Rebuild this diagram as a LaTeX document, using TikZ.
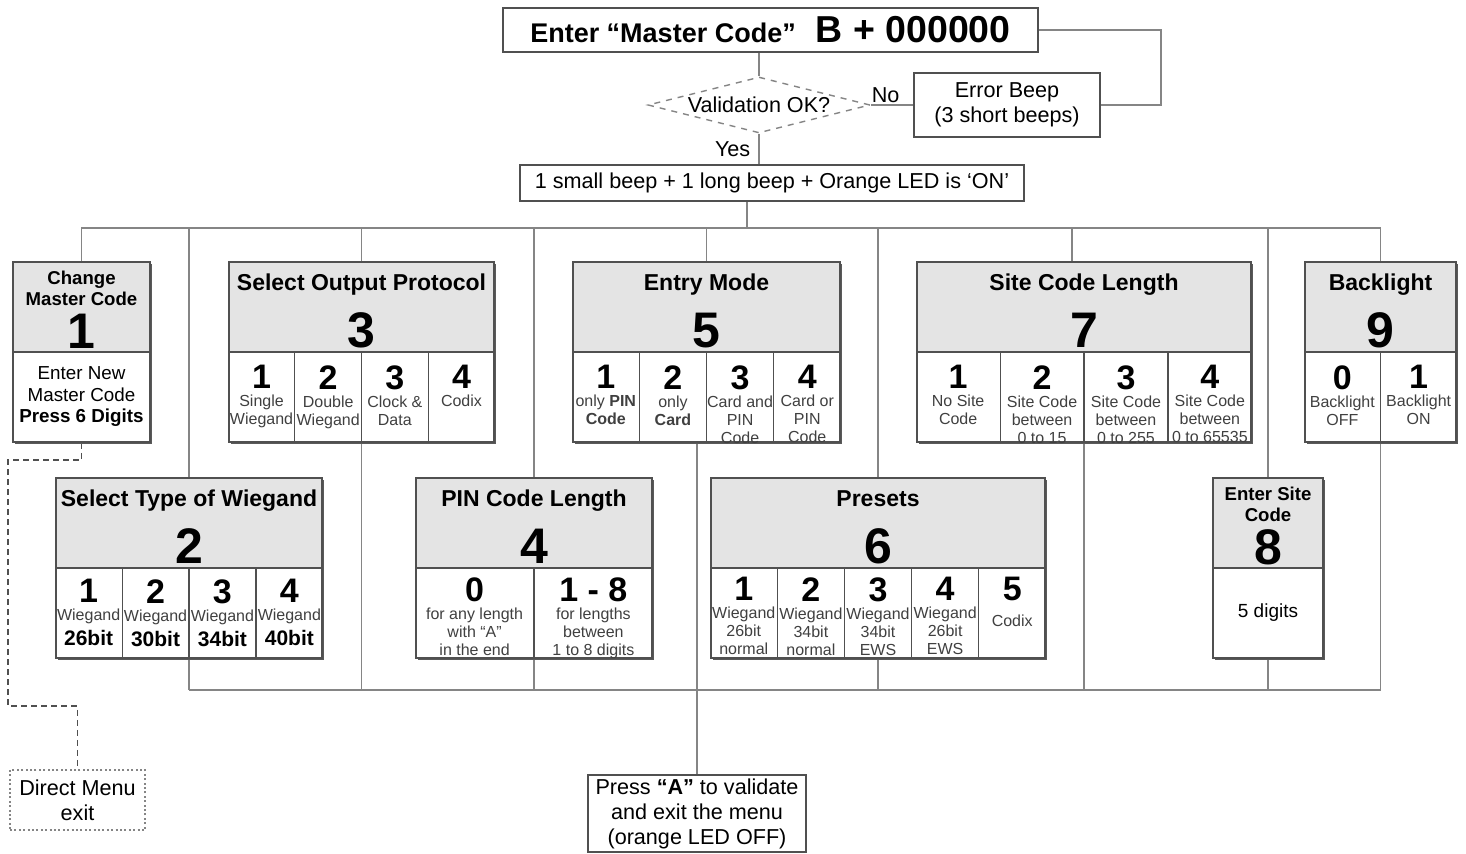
\documentclass[tikz,border=0pt]{standalone}
\usepackage{fontspec}
\setmainfont{Liberation Sans}
\usetikzlibrary{shapes.geometric,positioning,calc,backgrounds,shadows}
\definecolor{cbord}{HTML}{505050}
\definecolor{cwire}{HTML}{858585}
\definecolor{chead}{HTML}{E4E4E4}
\definecolor{cshad}{HTML}{5A5A5A}

\begin{document}
\begin{tikzpicture}[x=0.5pt, y=-0.5pt,
  font=\fontsize{10.8}{12.5}\selectfont,
  box/.style={draw=cbord, line width=0.8pt, fill=white, align=flush center, inner sep=1pt},
  menu/.style={box, drop shadow={shadow xshift=1pt, shadow yshift=-1pt, fill=cshad, opacity=1}},
  hd/.style={menu, fill=chead, minimum height=45pt},
  panel/.style={menu, minimum height=45pt},
  opttx/.style={anchor=north, align=flush center, inner sep=0pt},
  diam/.style={diamond, draw=cwire, dashed, line width=0.7pt, aspect=4, inner sep=0pt,
               minimum width=111pt, minimum height=28pt},
  wire/.style={draw=cwire, line width=0.75pt},
  divln/.style={draw=cbord, line width=0.6pt},
  dashln/.style={draw=cbord, line width=0.7pt, dash pattern=on 3pt off 2pt},
  lbl/.style={inner sep=1pt},
]
\newcommand{\ttl}[2]{\fontsize{11.5}{13}\selectfont\bfseries\rule{0pt}{12.5pt}#1\par\fontsize{25}{28.5}\selectfont #2\par}
\newcommand{\ttls}[2]{\fontsize{9.3}{10.3}\selectfont\bfseries\rule{0pt}{9.8pt}#1\par\fontsize{25}{21.5}\selectfont #2\par}
\newcommand{\choice}[2]{\fontsize{17}{18}\selectfont\bfseries\leavevmode\color{black}#1\par
  \fontsize{8}{9}\selectfont\mdseries\color{black!75}#2\par}
\newcommand{\bb}[1]{\par\fontsize{10.5}{12.5}\selectfont\bfseries\color{black}#1}

\useasboundingbox (0,0) rectangle (1466,854);

% ------------------------------------------------------------------ master code
\node[box, minimum width=267.5pt, minimum height=22pt] (mc) at (770.5,30)
  {{\fontsize{13.5}{15}\selectfont\bfseries Enter “Master Code”}\hspace{10pt}{\fontsize{18.75}{20}\selectfont\bfseries B + 000000}};
\node[diam] (valid) at (759,105) {Validation OK?};
\node[box, minimum width=93pt, minimum height=32pt] (err) at (1007,105) {Error Beep\\(3 short beeps)};
\node[box, minimum width=252pt, minimum height=18pt] (led) at (772,183) {1 small beep + 1 long beep + Orange LED is ‘ON’};

% ------------------------------------------------------------------ top row of menus
\node[hd, minimum width=68.5pt, text width=66pt] (chg) at (81.5,307) {\ttls{Change\\Master Code}{1}};
\node[panel, minimum width=68.5pt, text width=66pt] (chgb) at (81.5,397)
  {\fontsize{9.4}{10.75}\selectfont Enter New\\Master Code\\\textbf{Press 6 Digits}\par};

\node[hd, minimum width=132.5pt, text width=130pt] (proto) at (361.5,307) {\ttl{Select Output Protocol}{3}};
\node[panel, minimum width=132.5pt] (protob) at (361.5,397) {};
\foreach \i in {1,2,3}
  \draw[divln] ($(protob.north west)!\i/4!(protob.north east)$) -- ($(protob.south west)!\i/4!(protob.south east)$);
\foreach \dg/\tx [count=\i] in {1/{Single\\Wiegand}, 2/{Double\\Wiegand}, 3/{Clock \&\\Data}, 4/{Codix}}
  \node[opttx, text width=35pt] (protot\i) at ($(protob.north west)!\i/4-0.125!(protob.north east)+(0,14)$) {\choice{\dg}{\tx}};

\node[hd, minimum width=133.5pt, text width=131pt] (entry) at (706.5,307) {\ttl{Entry Mode}{5}};
\node[panel, minimum width=133.5pt] (entryb) at (706.5,397) {};
\foreach \i in {1,2,3}
  \draw[divln] ($(entryb.north west)!\i/4!(entryb.north east)$) -- ($(entryb.south west)!\i/4!(entryb.south east)$);
\foreach \dg/\tx [count=\i] in {1/{only \textbf{PIN}\\\textbf{Code}}, 2/{only\\\textbf{Card}},
    3/{Card and\\PIN\\Code}, 4/{Card or\\PIN\\Code}}
  \node[opttx, text width=35pt] (entryt\i) at ($(entryb.north west)!\i/4-0.125!(entryb.north east)+(0,14)$) {\choice{\dg}{\tx}};

\node[hd, minimum width=167pt, text width=164pt] (site) at (1084,307) {\ttl{Site Code Length}{7}};
\node[panel, minimum width=167pt] (siteb) at (1084,397) {};
\foreach \i in {1,2,3}
  \draw[divln] ($(siteb.north west)!\i/4!(siteb.north east)$) -- ($(siteb.south west)!\i/4!(siteb.south east)$);
\foreach \dg/\tx [count=\i] in {1/{No Site\\Code}, 2/{Site Code\\between\\0 to 15},
    3/{Site Code\\between\\0 to 255}, 4/{Site Code\\between\\0 to 65535}}
  \node[opttx, text width=43pt] (sitet\i) at ($(siteb.north west)!\i/4-0.125!(siteb.north east)+(0,14)$) {\choice{\dg}{\tx}};

\node[hd, minimum width=75.5pt, text width=73pt] (blight) at (1380.5,307) {\ttl{Backlight}{9}};
\node[panel, minimum width=75.5pt] (blightb) at (1380.5,397) {};
\draw[divln] (blightb.north) -- (blightb.south);
\foreach \dg/\tx [count=\i] in {0/{Backlight\\OFF}, 1/{Backlight\\ON}}
  \node[opttx, text width=39pt] (blightt\i) at ($(blightb.north west)!\i/2-0.25!(blightb.north east)+(0,14)$) {\choice{\dg}{\tx}};

% ------------------------------------------------------------------ bottom row of menus
\node[hd, minimum width=133pt, text width=131pt] (wieg) at (189,523) {\ttl{Select Type of Wiegand}{2}};
\node[panel, minimum width=133pt] (wiegb) at (189,613) {};
\foreach \i in {1,2,3}
  \draw[divln] ($(wiegb.north west)!\i/4!(wiegb.north east)$) -- ($(wiegb.south west)!\i/4!(wiegb.south east)$);
\foreach \dg/\tx [count=\i] in {1/{Wiegand\bb{26bit}}, 2/{Wiegand\bb{30bit}}, 3/{Wiegand\bb{34bit}}, 4/{Wiegand\bb{40bit}}}
  \node[opttx, text width=35pt] (wiegt\i) at ($(wiegb.north west)!\i/4-0.125!(wiegb.north east)+(0,12)$) {\choice{\dg}{\tx}};

\node[hd, minimum width=118pt, text width=115pt] (pinlen) at (534,523) {\ttl{PIN Code Length}{4}};
\node[panel, minimum width=118pt] (pinlenb) at (534,613) {};
\draw[divln] (pinlenb.north) -- (pinlenb.south);
\foreach \dg/\tx [count=\i] in {0/{for any length\\with “A”\\in the end}, {1 - 8}/{for lengths\\between\\1 to 8 digits}}
  \node[opttx, text width=60pt] (pinlent\i) at ($(pinlenb.north west)!\i/2-0.25!(pinlenb.north east)+(0,10)$) {\choice{\dg}{\tx}};

\node[hd, minimum width=167pt, text width=164pt] (preset) at (878,523) {\ttl{Presets}{6}};
\node[panel, minimum width=167pt] (presetb) at (878,613) {};
\foreach \i in {1,2,3,4}
  \draw[divln] ($(presetb.north west)!\i/5!(presetb.north east)$) -- ($(presetb.south west)!\i/5!(presetb.south east)$);
\foreach \dg/\tx [count=\i] in {1/{Wiegand\\26bit\\normal}, 2/{Wiegand\\34bit\\normal},
    3/{Wiegand\\34bit\\EWS}, 4/{Wiegand\\26bit\\EWS}, 5/{\vspace{4pt}Codix}}
  \node[opttx, text width=35pt] (presett\i) at ($(presetb.north west)!\i/5-0.1!(presetb.north east)+(0,10)$) {\choice{\dg}{\tx}};

\node[hd, minimum width=55pt, text width=53pt] (sitec) at (1268,523) {\ttls{Enter Site\\Code}{8}};
\node[panel, minimum width=55pt, text width=53pt] (sitecb) at (1268,613) {\fontsize{9.5}{11}\selectfont 5 digits\par};

% ------------------------------------------------------------------ exits
\node[box, minimum width=109pt, minimum height=38.5pt] (pa) at (697,813.5)
  {Press \textbf{“A”} to validate\\and exit the menu\\(orange LED OFF)};
\node[box, draw=cwire, dash pattern=on 1pt off 1.2pt, minimum width=67.5pt, minimum height=30pt] (exit) at (77.5,800)
  {Direct Menu\\exit};

% ------------------------------------------------------------------ connectors
\begin{scope}[on background layer]
  \fill[white] (0,0) rectangle (1466,854);
  \coordinate (tbus) at (0,228);
  \coordinate (bbus) at (0,690);
  \coordinate (ledout) at ($(led.south)+(-25,0)$);
  \coordinate (sitein) at ($(site.north)+(-12,0)$);
  \draw[wire] (valid.north |- mc.south) -- (valid.north);
  \draw[wire] (valid.east) -- node[lbl, above, pos=0.35] (nolbl) {No} (err.west);
  \draw[wire] (mc.east) -- ++(122,0) |- (err.east);
  \draw[wire] (valid.south) -- node[lbl, left=3pt] (yeslbl) {Yes} (valid.south |- led.north);
  \draw[wire] (ledout) -- (ledout |- tbus);
  % top bus, right riser and bottom bus
  \draw[wire] (chg.north) -- (chg.north |- tbus) -- (blight.north |- tbus) -- (blight.north |- bbus) -- (wieg.north |- bbus);
  \foreach \m in {wieg,proto,pinlen,preset,sitec}
    \draw[wire] (\m.north |- tbus) -- (\m.north |- bbus);
  \draw[wire] (entry.north) -- (entry.north |- tbus);
  \draw[wire] (sitein) -- (sitein |- tbus);
  \draw[wire] (siteb.south) -- (siteb.south |- bbus);
  \draw[wire] (pa.north) -- (pa.north |- entryb.south);
  \draw[dashln] (chgb.south) |- (8,460) -- (8,706) -| (exit.north);
\end{scope}
\end{tikzpicture}
\end{document}
